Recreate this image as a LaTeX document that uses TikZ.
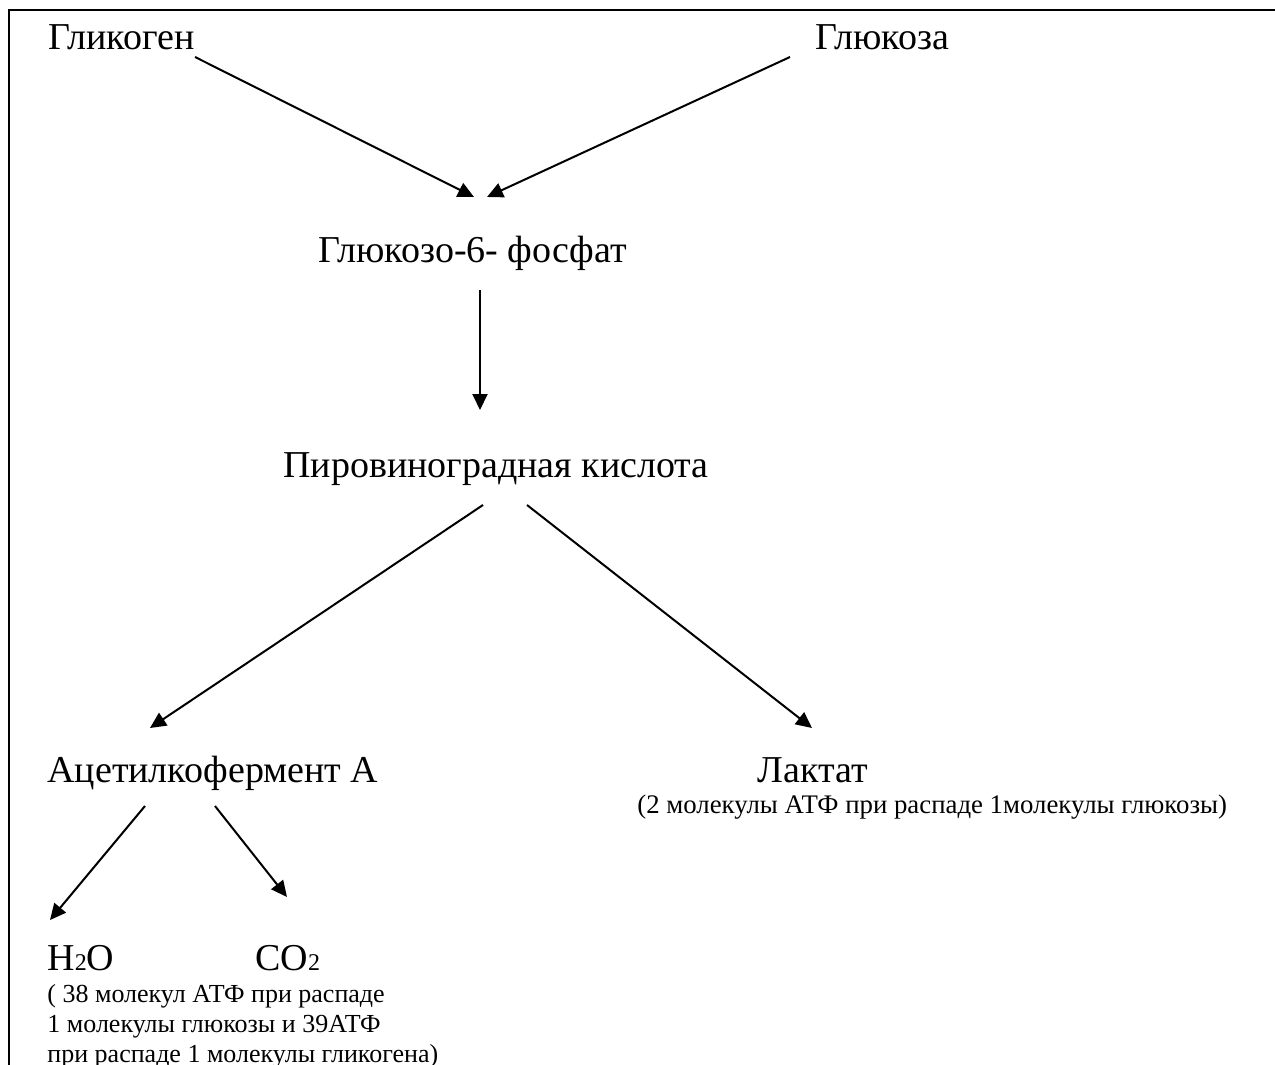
\documentclass[tikz,border=0pt]{standalone}
\usepackage{fontspec}
\setmainfont{Liberation Serif}
\usetikzlibrary{arrows.meta,calc}

\tikzset{
  big/.style={inner sep=0pt, anchor=base west, font=\fontsize{19}{22}\selectfont},
  small/.style={inner sep=0pt, anchor=base west, font=\fontsize{13}{15}\selectfont},
  arr/.style={line width=1pt, -{Triangle[length=8pt,width=7.5pt]}},
}

\begin{document}
\begin{tikzpicture}[x=0.5pt,y=-0.5pt]
  \useasboundingbox (0,0) rectangle (1275,1065);
  \draw[line width=1.2pt] (9,1065) -- (9,10) -- (1275,10);
  \node[big] (glycogen) at (48,50) {Гликоген};
  \node[big] (glucose) at (815,50) {Глюкоза};
  \node[big] (g6p) at (318,263) {Глюкозо-6- фосфат};
  \node[big] (pyr) at (283,477) {Пировиноградная кислота};
  \node[big] (acoa) at (47,782) {Ацетилкофермент А};
  \node[big] (lactate) at (757,782) {Лактат};
  \node[small, font=\fontsize{13.4}{15}\selectfont] (latp) at (637,813)
    {(2 молекулы АТФ при распаде 1молекулы глюкозы)};
  \node[big] (water) at (47,970) {H{\fontsize{12}{12}\selectfont 2}O};
  \node[big] (co2) at (255,970) {CO{\fontsize{12}{12}\selectfont 2}};
  \node[small, anchor=north west, align=left] (watp) at (47,984)
    {( 38 молекул АТФ при распаде\\1 молекулы глюкозы и 39АТФ\\при распаде 1 молекулы гликогена)};
  \draw[arr] ($(glycogen.base east)+(0,7)$) -- ($(g6p.base west)+(156,-66)$);
  \draw[arr] ($(glucose.base west)+(-25,7)$) -- ($(g6p.base west)+(169,-66)$);
  \draw[arr] ($(g6p.base west)+(162,27)$) -- ($(pyr.base west)+(197,-67)$);
  \draw[arr] ($(pyr.base west)+(200,28)$) -- ($(acoa.base west)+(103,-54)$);
  \draw[arr] ($(pyr.base west)+(244,28)$) -- ($(lactate.base west)+(55,-54)$);
  \draw[arr] ($(acoa.base west)+(98,24)$) -- ($(water.base west)+(3,-50)$);
  \draw[arr] ($(acoa.base west)+(168,24)$) -- ($(co2.base west)+(32,-73)$);
\end{tikzpicture}
\end{document}
